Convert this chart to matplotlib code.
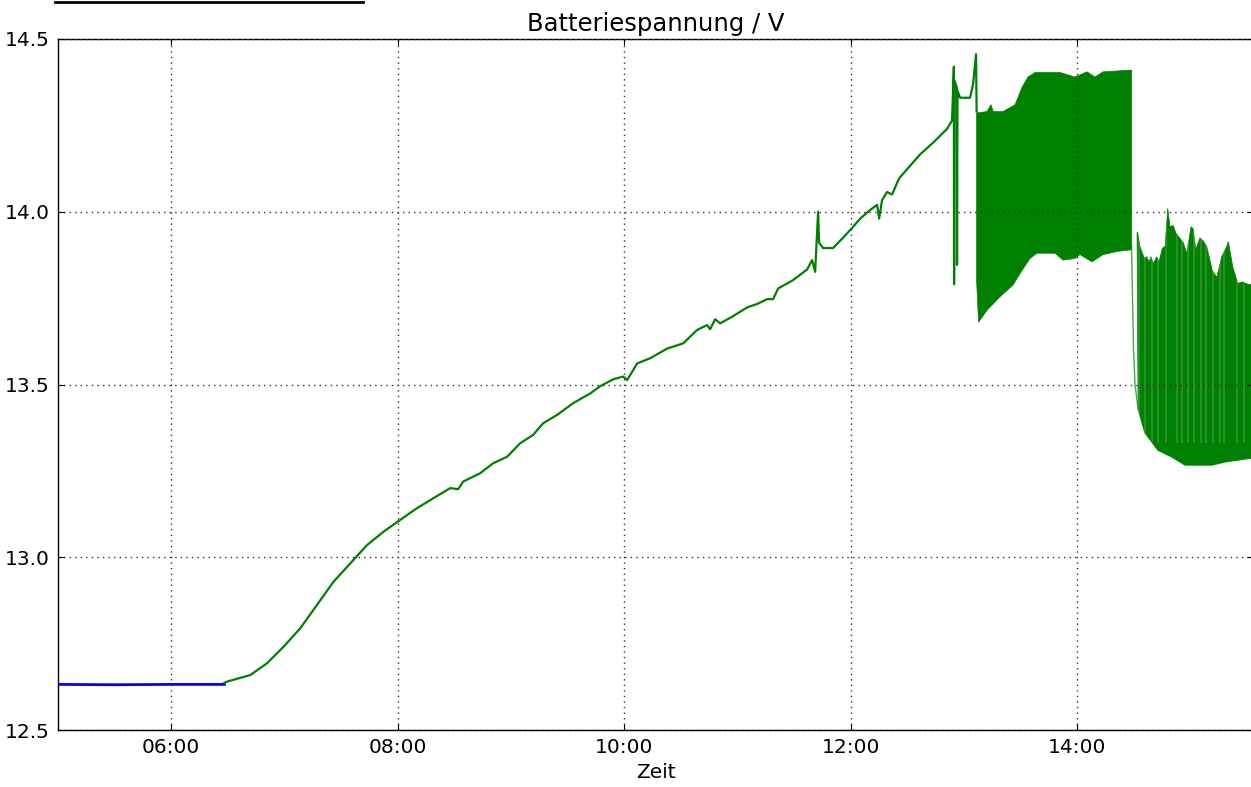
import numpy as np
import pandas as pd
import matplotlib
matplotlib.use("Agg")
import matplotlib.pyplot as plt
import matplotlib.dates as mdates
from matplotlib.lines import Line2D

# Zeit in Stunden (dezimal), Spannung in V
ruhe_t = [5.0, 5.5, 6.0, 6.47]
ruhe_v = [12.632, 12.631, 12.632, 12.632]

laden_t = [6.468, 6.492, 6.698, 6.845, 6.992, 7.139, 7.287, 7.433, 7.581, 7.728,
           7.875, 8.022, 8.170, 8.316, 8.464, 8.534, 8.578, 8.728, 8.843, 8.967,
           9.082, 9.196, 9.285, 9.408, 9.550, 9.700, 9.788, 9.903, 9.991, 10.027,
           10.115, 10.230, 10.380, 10.521, 10.645, 10.733, 10.759, 10.804, 10.848, 10.963,
           11.086, 11.174, 11.263, 11.316, 11.360, 11.492, 11.616, 11.660, 11.687, 11.713,
           11.722, 11.757, 11.845, 11.934, 12.013, 12.084, 12.172, 12.234, 12.252, 12.278,
           12.322, 12.366, 12.393, 12.419, 12.437, 12.614, 12.729, 12.852, 12.896, 12.912,
           12.914, 12.918, 12.938, 12.940, 12.944, 12.967, 13.055, 13.082, 13.108, 13.113]
laden_v = [12.636, 12.640, 12.659, 12.693, 12.741, 12.794, 12.862, 12.929, 12.982, 13.035,
           13.074, 13.108, 13.142, 13.171, 13.200, 13.197, 13.219, 13.243, 13.272, 13.291,
           13.330, 13.354, 13.388, 13.412, 13.446, 13.474, 13.495, 13.515, 13.523, 13.513,
           13.561, 13.576, 13.604, 13.619, 13.658, 13.672, 13.660, 13.689, 13.677, 13.698,
           13.723, 13.733, 13.747, 13.747, 13.778, 13.802, 13.833, 13.860, 13.826, 14.000,
           13.910, 13.895, 13.895, 13.925, 13.953, 13.980, 14.005, 14.020, 13.980, 14.034,
           14.057, 14.050, 14.070, 14.090, 14.100, 14.166, 14.200, 14.240, 14.264, 14.420,
           13.790, 14.380, 14.360, 13.846, 14.350, 14.330, 14.330, 14.370, 14.456, 14.290]

# Pulsbetrieb: obere und untere Huellkurve
puls_oben_t = [13.113, 13.205, 13.240, 13.260, 13.347, 13.453, 13.514, 13.567, 13.629,
               13.850, 13.982, 14.088, 14.159, 14.230, 14.481]
puls_oben_v = [14.286, 14.290, 14.310, 14.290, 14.290, 14.310, 14.360, 14.390, 14.403,
               14.403, 14.390, 14.405, 14.390, 14.405, 14.410]
puls_unten_t = [13.113, 13.130, 13.205, 13.320, 13.435, 13.514, 13.585, 13.647, 13.806,
                13.876, 13.982, 14.026, 14.132, 14.230, 14.353, 14.481]
puls_unten_v = [13.800, 13.680, 13.715, 13.754, 13.788, 13.830, 13.865, 13.880, 13.880,
                13.860, 13.865, 13.876, 13.855, 13.876, 13.885, 13.890]

# Abfall nach Ende des Pulsbetriebs (Grundlinie)
abfall_t = [14.481, 14.499, 14.512, 14.539, 14.600, 14.715, 14.839, 14.954, 15.192,
            15.307, 15.536, 15.560]
abfall_v = [13.900, 13.600, 13.500, 13.430, 13.360, 13.310, 13.290, 13.267, 13.267,
            13.276, 13.287, 13.288]

# Spitzen danach (obere Huellkurve)
spitzen_t = [14.530, 14.536, 14.556, 14.577, 14.594, 14.615, 14.636, 14.653, 14.674,
             14.704, 14.724, 14.753, 14.777, 14.801, 14.821, 14.850, 14.871, 14.909,
             14.939, 14.969, 15.007, 15.027, 15.048, 15.086, 15.115, 15.145, 15.195,
             15.234, 15.278, 15.322, 15.336, 15.376, 15.420, 15.464, 15.508, 15.536,
             15.560]
spitzen_v = [13.940, 13.940, 13.899, 13.880, 13.866, 13.870, 13.855, 13.870, 13.850,
             13.870, 13.855, 13.894, 13.900, 14.010, 13.957, 13.960, 13.940, 13.923,
             13.910, 13.880, 13.957, 13.950, 13.890, 13.925, 13.915, 13.900, 13.830,
             13.810, 13.870, 13.900, 13.914, 13.840, 13.793, 13.797, 13.790, 13.790,
             13.790]

# Luecken zwischen den Spitzen
luecken_t = [14.545, 14.600, 14.665, 14.712, 14.783, 14.883, 14.927, 14.978, 15.033,
             15.092, 15.140, 15.200, 15.263, 15.298, 15.413, 15.475]

tag = pd.Timestamp("2016-06-01")


def zeit(h):
    return (tag + pd.to_timedelta(np.asarray(h, dtype=float), unit="h")).to_pydatetime()


plt.rcParams["font.family"] = "DejaVu Sans"
plt.rcParams["font.size"] = 14.5

fig = plt.figure(figsize=(12.51, 7.87), dpi=100, facecolor="white")
ax = fig.add_axes([58 / 1251, 57 / 787, (1253 - 58) / 1251, 691 / 787])

gruen = (0, 0.5, 0)

ax.plot(zeit(ruhe_t), ruhe_v, color="b", lw=2)
ax.plot(zeit(laden_t), laden_v, color=gruen, lw=1.6)

# Pulsband
band_t = list(puls_oben_t) + list(puls_unten_t[::-1])
band_v = list(puls_oben_v) + list(puls_unten_v[::-1])
ax.fill(zeit(band_t), band_v, color=gruen, lw=0.5, ec=gruen)

# Abfall und Spitzen
ax.plot(zeit(abfall_t), abfall_v, color=gruen, lw=1.0, alpha=0.7)
basis_t = [t for t in abfall_t if t >= 14.53]
basis_v = [v for t, v in zip(abfall_t, abfall_v) if t >= 14.53]
sp_t = list(spitzen_t) + basis_t[::-1]
sp_v = list(spitzen_v) + basis_v[::-1]
ax.fill(zeit(sp_t), sp_v, color=gruen, lw=0.5, ec=gruen)
ax.vlines(zeit(luecken_t), 13.33, 14.05, color="white", lw=0.35, alpha=0.6)

ax.set_xlim(zeit([5.0])[0], zeit([15.554])[0])
ax.set_ylim(12.5, 14.5)
ax.set_yticks([12.5, 13.0, 13.5, 14.0, 14.5])
ax.yaxis.set_major_formatter(plt.FormatStrFormatter("%.1f"))
ax.xaxis.set_major_locator(mdates.HourLocator(byhour=range(0, 24, 2)))
ax.xaxis.set_major_formatter(mdates.DateFormatter("%H:%M"))

ax.grid(True, color="0.2", linestyle=(0, (1, 3)), linewidth=1.0)
ax.set_axisbelow(False)
ax.tick_params(direction="in", length=4, top=True, right=True, pad=6)
for s in ax.spines.values():
    s.set_linewidth(1.0)

ax.set_title("Batteriespannung / V", fontsize=17.5, pad=6)
ax.set_xlabel("Zeit")

# Unterstreichung der abgeschnittenen Ueberschrift
fig.add_artist(Line2D([55 / 1251, 363 / 1251], [1 - 2 / 787, 1 - 2 / 787],
                      transform=fig.transFigure, color="k", lw=2))

fig.savefig("out.png", dpi=100, facecolor="white")
